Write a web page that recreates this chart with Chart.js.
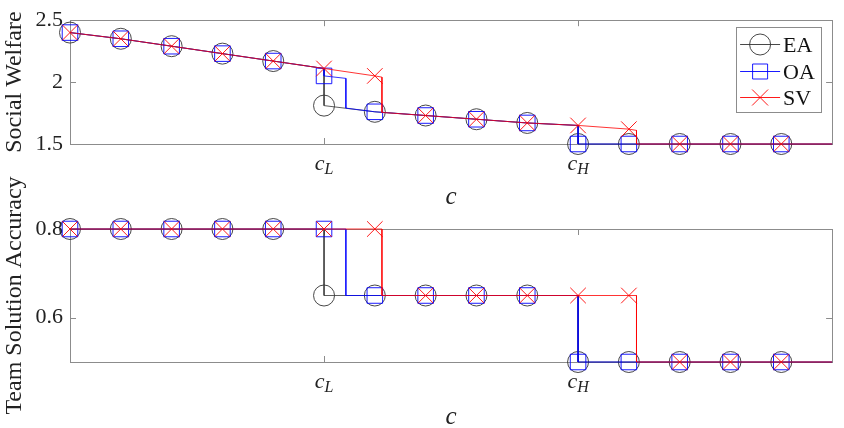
<!DOCTYPE html>
<html>
<head>
<meta charset="utf-8">
<script src="https://cdn.jsdelivr.net/npm/chart.js@4.4.0/dist/chart.umd.min.js"></script>
<style>
  html, body { margin: 0; padding: 0; background: #fff; overflow: hidden; width: 844px; height: 428px; }
  canvas { position: absolute; left: 0; }
  #bot { top: 130px; }
  #top { top: 0; }
</style>
</head>
<body>
<canvas id="bot" width="844" height="310"></canvas>
<canvas id="top" width="844" height="214"></canvas>
<script>
// series names and marker positions (c values)
const seriesNames = ['EA', 'OA', 'SV'];
const markerC = [0, 1, 2, 3, 4, 5, 6, 7, 8, 9, 10, 11, 12, 13, 14];

// Social Welfare at the markers
const swEA = [2.40, 2.35, 2.29, 2.23, 2.17, 1.81, 1.76, 1.73, 1.70, 1.67, 1.50, 1.50, 1.50, 1.50, 1.50];
const swOA = [2.40, 2.35, 2.29, 2.23, 2.17, 2.05, 1.76, 1.73, 1.70, 1.67, 1.50, 1.50, 1.50, 1.50, 1.50];
const swSV = [2.40, 2.35, 2.29, 2.23, 2.17, 2.11, 2.05, 1.73, 1.70, 1.67, 1.65, 1.62, 1.50, 1.50, 1.50];

// Team Solution Accuracy at the markers
const accEA = [0.80, 0.80, 0.80, 0.80, 0.80, 0.65, 0.65, 0.65, 0.65, 0.65, 0.50, 0.50, 0.50, 0.50, 0.50];
const accOA = [0.80, 0.80, 0.80, 0.80, 0.80, 0.80, 0.65, 0.65, 0.65, 0.65, 0.50, 0.50, 0.50, 0.50, 0.50];
const accSV = [0.80, 0.80, 0.80, 0.80, 0.80, 0.80, 0.80, 0.65, 0.65, 0.65, 0.65, 0.65, 0.50, 0.50, 0.50];

// curves (breakpoints of the finer c grid)
const swLineC_EA = [0, 1, 2, 3, 4, 5, 5, 6, 7, 8, 9, 10, 10, 15];
const swLineEA   = [2.40, 2.35, 2.29, 2.23, 2.17, 2.11, 1.81, 1.76, 1.73, 1.70, 1.67, 1.65, 1.50, 1.50];
const swLineC_OA = [0, 1, 2, 3, 4, 5, 5, 5.43, 5.43, 6, 7, 8, 9, 10, 10, 15];
const swLineOA   = [2.40, 2.35, 2.29, 2.23, 2.17, 2.11, 2.05, 2.03, 1.79, 1.76, 1.73, 1.70, 1.67, 1.65, 1.50, 1.50];
const swLineC_SV = [0, 1, 2, 3, 4, 5, 6, 6.14, 6.14, 7, 8, 9, 10, 11, 11.15, 11.15, 15];
const swLineSV   = [2.40, 2.35, 2.29, 2.23, 2.17, 2.11, 2.05, 2.04, 1.755, 1.73, 1.70, 1.67, 1.65, 1.62, 1.61, 1.50, 1.50];

const accLineC_EA = [0, 5, 5, 10, 10, 15];
const accLineEA   = [0.80, 0.80, 0.65, 0.65, 0.50, 0.50];
const accLineC_OA = [0, 5.43, 5.43, 10, 10, 15];
const accLineOA   = [0.80, 0.80, 0.65, 0.65, 0.50, 0.50];
const accLineC_SV = [0, 6.14, 6.14, 11.15, 11.15, 15];
const accLineSV   = [0.80, 0.80, 0.65, 0.65, 0.50, 0.50];

// ticks
const xTickValues = [5, 10];
const xTickBase = ['c', 'c'];
const xTickSub = ['L', 'H'];
const swTicks = [1.5, 2, 2.5];
const accTicks = [0.6, 0.8];

const SERIF = '"Liberation Serif", "Times New Roman", serif';
const colors = { EA: '#333333', OA: '#0000ff', SV: '#ff0000' };
const frameColor = '#8c8c8c';

function pts(xs, ys) { return xs.map((x, i) => ({ x: x, y: ys[i] })); }

function lineDs(name, xs, ys, order) {
  return {
    label: name, data: pts(xs, ys), borderColor: colors[name], borderWidth: 0.8,
    pointRadius: 0, tension: 0, fill: false, clip: false, order: order
  };
}

function markDs(name, ys, order) {
  const style = { EA: 'circle', OA: 'rect', SV: 'crossRot' }[name];
  const r = { EA: 10.5, OA: 11, SV: 11 }[name];
  return {
    label: name, data: pts(markerC, ys), showLine: false, clip: false, order: order,
    pointStyle: style, pointRadius: r, pointBorderWidth: 0.9,
    pointBorderColor: colors[name], pointBackgroundColor: 'rgba(0,0,0,0)'
  };
}

// box, inward ticks, subscripted x tick labels and the legend
const framePlugin = {
  id: 'frame',
  beforeDatasetsDraw(chart, args, opts) {
    const ctx = chart.ctx, a = chart.chartArea;
    const xs = chart.scales.x, ys = chart.scales.y;
    ctx.save();
    ctx.strokeStyle = frameColor;
    ctx.lineWidth = 1;
    ctx.strokeRect(Math.round(a.left) + 0.5, Math.round(a.top) + 0.5,
      Math.round(a.right - a.left), Math.round(a.bottom - a.top));
    ctx.beginPath();
    xTickValues.forEach(v => {
      const px = Math.round(xs.getPixelForValue(v)) + 0.5;
      ctx.moveTo(px, a.bottom); ctx.lineTo(px, a.bottom - 6);
      ctx.moveTo(px, a.top); ctx.lineTo(px, a.top + 6);
    });
    opts.yTicks.forEach(v => {
      const py = Math.round(ys.getPixelForValue(v)) + 0.5;
      ctx.moveTo(a.left, py); ctx.lineTo(a.left + 6, py);
      ctx.moveTo(a.right, py); ctx.lineTo(a.right - 6, py);
    });
    ctx.stroke();
    ctx.restore();
  },
  afterDraw(chart, args, opts) {
    const ctx = chart.ctx, a = chart.chartArea, xs = chart.scales.x;
    ctx.save();
    ctx.fillStyle = '#222';
    ctx.textBaseline = 'alphabetic';
    ctx.textAlign = 'left';
    xTickValues.forEach((v, i) => {
      const px = xs.getPixelForValue(v);
      const fBase = 'italic 22px ' + SERIF, fSub = 'italic 16px ' + SERIF;
      ctx.font = fBase; const wb = ctx.measureText(xTickBase[i]).width;
      ctx.font = fSub; const ws = ctx.measureText(xTickSub[i]).width;
      const x0 = px - (wb + ws) / 2;
      const base = a.bottom + 25.5;
      ctx.font = fBase; ctx.fillText(xTickBase[i], x0, base);
      ctx.font = fSub; ctx.fillText(xTickSub[i], x0 + wb, base + 4);
    });
    if (opts.legend) {
      const L = a.right - 96, T = a.top + 7, W = 85, H = 85;
      ctx.fillStyle = '#fff';
      ctx.fillRect(L, T, W, H);
      ctx.strokeStyle = frameColor;
      ctx.lineWidth = 1;
      ctx.strokeRect(Math.round(L) + 0.5, Math.round(T) + 0.5, W, H);
      const rows = [17, 44, 70];
      seriesNames.forEach((name, i) => {
        const y = Math.round(T + rows[i]) + 0.5;
        const cx = L + 24;
        ctx.strokeStyle = colors[name];
        ctx.lineWidth = 0.9;
        ctx.beginPath();
        ctx.moveTo(L + 4, y); ctx.lineTo(L + 44, y);
        ctx.stroke();
        ctx.beginPath();
        if (name === 'EA') {
          ctx.arc(cx, y, 10.5, 0, Math.PI * 2);
        } else if (name === 'OA') {
          ctx.rect(cx - 7.5, y - 7.5, 15, 15);
        } else {
          ctx.moveTo(cx - 8, y - 8); ctx.lineTo(cx + 8, y + 8);
          ctx.moveTo(cx - 8, y + 8); ctx.lineTo(cx + 8, y - 8);
        }
        ctx.stroke();
        ctx.fillStyle = '#111';
        ctx.font = '22px ' + SERIF;
        ctx.fillText(name, L + 47, y + 7);
      });
    }
    ctx.restore();
  }
};

function makeChart(id, cfg) {
  return new Chart(document.getElementById(id), {
    type: 'line',
    data: {
      datasets: [
        markDs('SV', cfg.sv, 0), lineDs('SV', cfg.lineCSV, cfg.lineSV, 1),
        markDs('OA', cfg.oa, 2), lineDs('OA', cfg.lineCOA, cfg.lineOA, 3),
        markDs('EA', cfg.ea, 4), lineDs('EA', cfg.lineCEA, cfg.lineEA, 5)
      ]
    },
    options: {
      responsive: false,
      animation: false,
      events: [],
      layout: { padding: { left: 0, right: 8, top: cfg.padTop, bottom: 0 } },
      plugins: {
        legend: { display: false },
        tooltip: { enabled: false },
        frame: { legend: cfg.legend, yTicks: cfg.yTicks }
      },
      scales: {
        x: {
          type: 'linear', min: 0, max: 15,
          grid: { display: false, drawTicks: false },
          border: { display: false },
          ticks: { display: false },
          afterBuildTicks: s => { s.ticks = xTickValues.map(v => ({ value: v })); },
          afterFit: s => { s.height = cfg.xAxisH; },
          title: {
            display: true, text: 'c', color: '#222',
            font: { family: SERIF, size: 25, style: 'italic' },
            padding: { top: 0, bottom: cfg.cPad }
          }
        },
        y: {
          type: 'linear', min: cfg.yMin, max: cfg.yMax,
          grid: { display: false, drawTicks: false },
          border: { display: false },
          afterBuildTicks: s => { s.ticks = cfg.yTicks.map(v => ({ value: v })); },
          afterFit: s => { s.width = 70; },
          ticks: {
            color: '#222', padding: 7, font: { family: SERIF, size: 22 },
            callback: v => String(Number(v.toFixed(2)))
          },
          title: {
            display: true, text: cfg.yTitle, color: '#222',
            font: { family: SERIF, size: 24 },
            padding: { top: 0.6, bottom: 0 }
          }
        }
      }
    },
    plugins: [framePlugin]
  });
}

makeChart('top', {
  ea: swEA, oa: swOA, sv: swSV,
  lineCEA: swLineC_EA, lineEA: swLineEA,
  lineCOA: swLineC_OA, lineOA: swLineOA,
  lineCSV: swLineC_SV, lineSV: swLineSV,
  yMin: 1.5, yMax: 2.5, yTicks: swTicks, yTitle: 'Social Welfare',
  padTop: 14, xAxisH: 70, cPad: 1.2, legend: true
});

makeChart('bot', {
  ea: accEA, oa: accOA, sv: accSV,
  lineCEA: accLineC_EA, lineEA: accLineEA,
  lineCOA: accLineC_OA, lineOA: accLineOA,
  lineCSV: accLineC_SV, lineSV: accLineSV,
  yMin: 0.5, yMax: 0.8, yTicks: accTicks, yTitle: 'Team Solution Accuracy',
  padTop: 99, xAxisH: 78, cPad: 7.2, legend: false
});
</script>
</body>
</html>
